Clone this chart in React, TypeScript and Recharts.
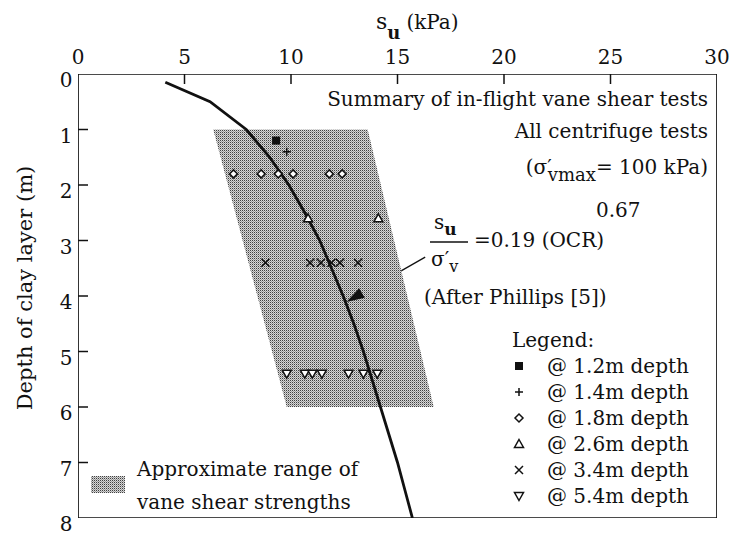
import React from "react";
import {
  ComposedChart,
  XAxis,
  YAxis,
  Scatter,
  ReferenceLine,
} from "recharts";

const SU_TICKS = [0, 5, 10, 15, 20, 25, 30];
const DEPTH_TICKS = [0, 1, 2, 3, 4, 5, 6, 7, 8];

// su/σ'v = 0.19 (OCR)^0.67  (After Phillips [5])
const curveDepth = [0.15, 0.5, 1, 1.5, 2, 2.5, 3, 3.5, 4, 4.5, 5, 5.5, 6, 6.5, 7, 7.5, 8];
const curveSu = [4.1, 6.2, 7.9, 9.0, 9.9, 10.65, 11.35, 11.9, 12.45, 12.95, 13.4, 13.8, 14.2, 14.6, 15.0, 15.35, 15.7];

// shaded band "approximate range of vane shear strengths" (corners)
const rangeDepth = [1, 1, 6, 6];
const rangeSu = [6.35, 13.6, 16.7, 9.8];

// plot frame corners
const frameSu = [0, 30, 30, 0];
const frameDepth = [0, 0, 8, 8];

// in-flight vane results, per test depth
const su12 = [9.3];
const su14 = [9.8];
const su18 = [7.3, 8.6, 9.4, 10.1, 11.8, 12.4];
const su26 = [10.8, 14.1];
const su34 = [8.8, 10.9, 11.4, 11.9, 12.3, 13.15];
const su54 = [9.8, 10.65, 11.0, 11.45, 12.7, 13.4, 14.05];

// arrow from the equation to the curve
const arrowFrom = { su: 16.3, depth: 3.3 };
const arrowTo = { su: 12.6, depth: 4.11 };

const FONT = "'DejaVu Serif', serif";
const INK = "#111";

const pts = (su: number[], depth: number[]) => su.map((v, i) => ({ su: v, depth: depth[i] }));
const atDepth = (su: number[], d: number) => su.map((v) => ({ su: v, depth: d }));

const curveData = pts(curveSu, curveDepth);
const rangeData = pts(rangeSu, rangeDepth);
const frameData = pts(frameSu, frameDepth);

type P = { cx?: number; cy?: number };

const noDot = () => <g />;

const square = ({ cx = 0, cy = 0 }: P) => (
  <rect x={cx - 4} y={cy - 4} width={8} height={8} fill={INK} />
);
const plus = ({ cx = 0, cy = 0 }: P) => (
  <path d={`M${cx - 4},${cy}H${cx + 4}M${cx},${cy - 4}V${cy + 4}`} stroke={INK} strokeWidth={1.5} />
);
const diamond = ({ cx = 0, cy = 0 }: P) => (
  <path d={`M${cx},${cy - 4}L${cx + 4},${cy}L${cx},${cy + 4}L${cx - 4},${cy}Z`} fill="#fff" stroke={INK} strokeWidth={1.5} />
);
const triUp = ({ cx = 0, cy = 0 }: P) => (
  <path d={`M${cx},${cy - 4.5}L${cx + 4.5},${cy + 3.5}L${cx - 4.5},${cy + 3.5}Z`} fill="#fff" stroke={INK} strokeWidth={1.5} />
);
const cross = ({ cx = 0, cy = 0 }: P) => (
  <path d={`M${cx - 4},${cy - 4}L${cx + 4},${cy + 4}M${cx + 4},${cy - 4}L${cx - 4},${cy + 4}`} stroke={INK} strokeWidth={1.5} />
);
const triDown = ({ cx = 0, cy = 0 }: P) => (
  <path d={`M${cx},${cy + 4.5}L${cx + 4.5},${cy - 3.5}L${cx - 4.5},${cy - 3.5}Z`} fill="#fff" stroke={INK} strokeWidth={1.5} />
);
const arrowHead = ({ cx = 0, cy = 0 }: P) => (
  <polygon
    points={`${cx},${cy} ${cx + 18},${cy - 5.5} ${cx + 18},${cy + 5.5}`}
    fill={INK}
    transform={`rotate(-30.3 ${cx} ${cy})`}
  />
);

const polyPoints = (p: any) => (p.points || []).map((q: any) => `${q.x},${q.y}`).join(" ");

const rangePolygon = (p: any) => (
  <polygon points={polyPoints(p)} fill="url(#halftone)" stroke="none" />
);
const framePolygon = (p: any) => (
  <polygon points={polyPoints(p)} fill="none" stroke={INK} strokeWidth={1.7} />
);

const TopTick = (p: any) => {
  const { x, y, payload } = p;
  const inner = payload.value > 0 && payload.value < 30;
  return (
    <g>
      {inner && <line x1={x} y1={y} x2={x} y2={y + 10} stroke={INK} strokeWidth={1.5} />}
      <text x={x} y={y - 10} textAnchor="middle" fontFamily={FONT} fontSize={20} fill={INK}>
        {payload.value}
      </text>
    </g>
  );
};

const LeftTick = (p: any) => {
  const { x, y, payload } = p;
  const inner = payload.value > 0 && payload.value < 8;
  return (
    <g>
      {inner && <line x1={x} y1={y} x2={x + 10} y2={y} stroke={INK} strokeWidth={1.5} />}
      <text x={x - 12} y={y + 13} textAnchor="middle" fontFamily={FONT} fontSize={20} fill={INK}>
        {payload.value}
      </text>
    </g>
  );
};

const legendRows: [string, (p: P) => React.ReactElement][] = [
  ["@ 1.2m depth", square],
  ["@ 1.4m depth", plus],
  ["@ 1.8m depth", diamond],
  ["@ 2.6m depth", triUp],
  ["@ 3.4m depth", cross],
  ["@ 5.4m depth", triDown],
];

export default function App() {
  const txt = { fontFamily: FONT, fontSize: 20, fill: INK };
  return (
    <div style={{ position: "relative", width: 734, height: 536, background: "#fff" }}>
      <style>{`body{margin:0;background:#fff}`}</style>
      <svg width={0} height={0} style={{ position: "absolute" }}>
        <defs>
          <pattern id="halftone" width={2} height={2} patternUnits="userSpaceOnUse">
            <rect width={2} height={2} fill="#d6d6d6" />
            <rect x={0} y={0} width={1} height={1} fill="#404040" />
            <rect x={1} y={1} width={1} height={1} fill="#9a9a9a" />
          </pattern>
        </defs>
      </svg>
      <ComposedChart width={734} height={536} margin={{ top: 44, right: 17, bottom: 18, left: 38 }}>
        <XAxis
          type="number"
          dataKey="su"
          orientation="top"
          domain={[0, 30]}
          ticks={SU_TICKS}
          height={30}
          axisLine={false}
          tickLine={false}
          tickSize={0}
          tickMargin={0}
          tick={TopTick}
          allowDataOverflow
        />
        <YAxis
          type="number"
          dataKey="depth"
          domain={[0, 8]}
          ticks={DEPTH_TICKS}
          reversed
          width={40}
          axisLine={false}
          tickLine={false}
          tickSize={0}
          tickMargin={0}
          tick={LeftTick}
          allowDataOverflow
        />
        <Scatter data={rangeData} line={rangePolygon} lineType="joint" shape={noDot} isAnimationActive={false} />
        <Scatter
          data={curveData}
          line={{ stroke: INK, strokeWidth: 2.8 }}
          lineType="joint"
          shape={noDot}
          isAnimationActive={false}
        />
        <Scatter data={atDepth(su12, 1.2)} shape={square} isAnimationActive={false} />
        <Scatter data={atDepth(su14, 1.4)} shape={plus} isAnimationActive={false} />
        <Scatter data={atDepth(su18, 1.8)} shape={diamond} isAnimationActive={false} />
        <Scatter data={atDepth(su26, 2.6)} shape={triUp} isAnimationActive={false} />
        <Scatter data={atDepth(su34, 3.4)} shape={cross} isAnimationActive={false} />
        <Scatter data={atDepth(su54, 5.4)} shape={triDown} isAnimationActive={false} />
        <ReferenceLine
          segment={[
            { x: arrowFrom.su, y: arrowFrom.depth },
            { x: arrowTo.su, y: arrowTo.depth },
          ]}
          stroke={INK}
          strokeWidth={1.3}
        />
        <Scatter data={[arrowTo]} shape={arrowHead} isAnimationActive={false} />
        <Scatter data={frameData} line={framePolygon} lineType="joint" shape={noDot} isAnimationActive={false} />
      </ComposedChart>

      <svg
        width={734}
        height={536}
        style={{ position: "absolute", left: 0, top: 0, pointerEvents: "none" }}
      >
        {/* axis titles */}
        <text x={376} y={29} fontFamily={FONT} fontSize={22} fill={INK}>
          s
          <tspan dy={10} fontSize={18} fontWeight="bold">u</tspan>
          <tspan dy={-10} dx={6} fontSize={20}>(kPa)</tspan>
        </text>
        <text
          transform="translate(32 288) rotate(-90)"
          textAnchor="middle"
          fontFamily={FONT}
          fontSize={21}
          fill={INK}
        >
          Depth of clay layer (m)
        </text>

        {/* header notes */}
        <text x={708} y={106} textAnchor="end" {...txt}>Summary of in-flight vane shear tests</text>
        <text x={708} y={138} textAnchor="end" {...txt}>All centrifuge tests</text>
        <text x={708} y={174} textAnchor="end" {...txt}>
          (σ′<tspan dy={7} dx={-4} fontSize={18}>vmax</tspan>
          <tspan dy={-7}>= 100 kPa)</tspan>
        </text>

        {/* equation */}
        <text x={434} y={229} {...txt}>
          s<tspan dy={6} fontSize={17} fontWeight="bold">u</tspan>
        </text>
        <line x1={430} y1={242} x2={468} y2={242} stroke={INK} strokeWidth={1.5} />
        <text x={431} y={266} {...txt}>
          σ′<tspan dy={6} fontSize={16}>v</tspan>
        </text>
        <text x={474} y={247} {...txt}>=0.19 (OCR)</text>
        <text x={596} y={217} {...txt}>0.67</text>
        <text x={424} y={304} {...txt}>(After Phillips [5])</text>

        {/* legend */}
        <text x={512} y={347} {...txt}>Legend:</text>
        {legendRows.map(([label, mark], i) => {
          const cy = 366 + i * 26;
          return (
            <g key={label}>
              {mark({ cx: 519, cy })}
              <text x={547} y={cy + 7} {...txt}>{label}</text>
            </g>
          );
        })}

        {/* shaded band key */}
        <rect x={91} y={476} width={34} height={17} fill="url(#halftone)" />
        <text x={137} y={476} {...txt}>Approximate range of</text>
        <text x={137} y={509} {...txt}>vane shear strengths</text>
      </svg>
    </div>
  );
}
